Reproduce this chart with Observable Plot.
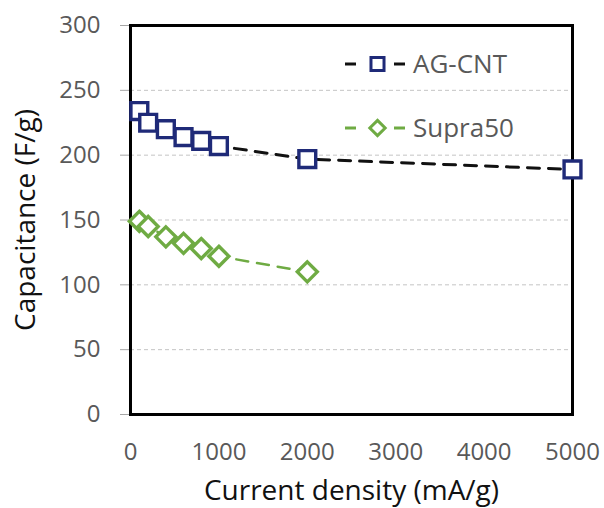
<!DOCTYPE html>
<html><head><meta charset="utf-8">
<script src="https://cdn.jsdelivr.net/npm/d3@7"></script>
<script src="https://cdn.jsdelivr.net/npm/@observablehq/plot@0.6"></script>
<style>
html,body{margin:0;padding:0;background:#fff;}
#chart svg{display:block;}
</style></head><body><div id="chart"></div>
<script>
const currentDensity = [100, 200, 400, 600, 800, 1000, 2000, 5000];
const agCnt = [234, 225, 220, 214, 211, 207, 197, 189];
const supraDensity = [100, 200, 400, 600, 800, 1000, 2000];
const supra50 = [149, 145, 137, 132, 128, 122, 110];
const xTicks = [0, 1000, 2000, 3000, 4000, 5000];
const yTicks = [0, 50, 100, 150, 200, 250, 300];
const gridValues = [50, 100, 150, 200, 250];
const seriesNames = ["AG-CNT", "Supra50"];
const xTitle = "Current density (mA/g)";
const yTitle = "Capacitance (F/g)";

const agData = currentDensity.map((x, i) => ({x, y: agCnt[i]}));
const supraData = supraDensity.map((x, i) => ({x, y: supra50[i]}));
const navy = "#1F2A78", green = "#6FAB43";

const chart = Plot.plot({
  width: 604, height: 508,
  marginLeft: 130, marginRight: 32, marginTop: 25, marginBottom: 94,
  style: {fontFamily: "'Open Sans', sans-serif", background: "#fff"},
  x: {domain: [0, 5000]},
  y: {domain: [0, 300]},
  marks: [
    Plot.gridY(gridValues, {stroke: "#c4c4c4", strokeOpacity: 1, strokeDasharray: "4,3"}),
    Plot.axisY(yTicks, {tickSize: 10, tickPadding: 20, fontSize: 24, fill: "#595959", stroke: "#a6a6a6", label: null}),
    Plot.axisX(xTicks, {tickSize: 0, tickPadding: 28, fontSize: 24, fill: "#595959", label: null, tickFormat: d3.format("d")}),
    Plot.line(agData, {x: "x", y: "y", stroke: "#111", strokeWidth: 3, strokeDasharray: "12,9"}),
    Plot.line(supraData, {x: "x", y: "y", stroke: green, strokeWidth: 2.5, strokeDasharray: "12,9"}),
    Plot.frame({stroke: "#000", strokeWidth: 3}),
    Plot.dot(agData, {x: "x", y: "y", symbol: "square", r: 9.5, stroke: navy, strokeWidth: 3.4, fill: "#fff"}),
    Plot.dot(supraData, {x: "x", y: "y", symbol: "diamond2", r: 9, stroke: green, strokeWidth: 3.4, fill: "#fff"}),
    Plot.text([xTitle], {frameAnchor: "bottom", lineAnchor: "middle", textAnchor: "middle", dy: 77, fontSize: 28, fill: "#111"}),
    Plot.text([yTitle], {frameAnchor: "left", lineAnchor: "middle", textAnchor: "middle", dx: -104, rotate: -90, fontSize: 28, fill: "#111"})
  ]
});
document.getElementById("chart").appendChild(chart);

// legend
const svg = d3.select(chart);
const legend = svg.append("g").attr("font-family", "'Open Sans', sans-serif");
const items = [
  {name: seriesNames[0], y: 64, line: "#111", color: navy, symbol: d3.symbolSquare, size: 170, sw: 3},
  {name: seriesNames[1], y: 128, line: green, color: green, symbol: d3.symbolDiamond2, size: 150, sw: 3}
];
for (const it of items) {
  const g = legend.append("g");
  g.append("line").attr("x1", 345).attr("x2", 356).attr("y1", it.y).attr("y2", it.y)
    .attr("stroke", it.line).attr("stroke-width", 3);
  g.append("line").attr("x1", 394).attr("x2", 405).attr("y1", it.y).attr("y2", it.y)
    .attr("stroke", it.line).attr("stroke-width", 3);
  g.append("path").attr("d", d3.symbol(it.symbol, it.size)())
    .attr("transform", `translate(377.5,${it.y})`)
    .attr("fill", "#fff").attr("stroke", it.color).attr("stroke-width", it.sw);
  g.append("text").attr("x", 413).attr("y", it.y).attr("dy", "0.35em")
    .attr("text-anchor", "start")
    .attr("font-size", 26).attr("fill", "#595959").text(it.name);
}
</script>
</body></html>
